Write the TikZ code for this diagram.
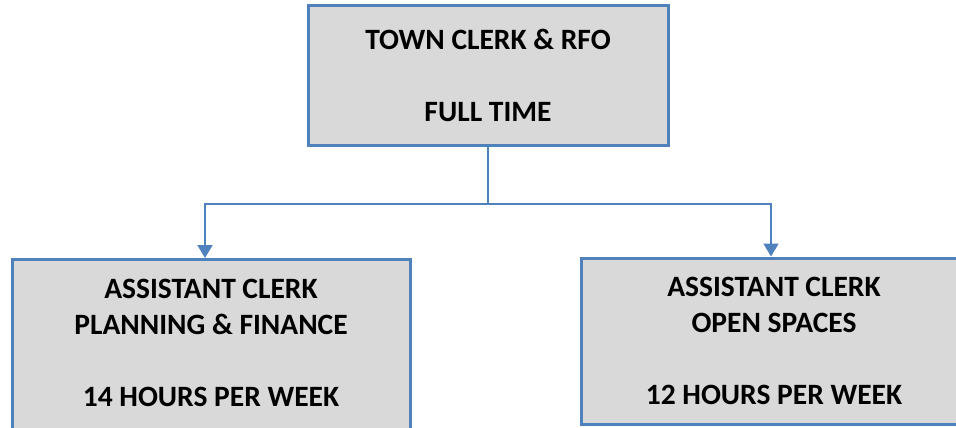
\documentclass[tikz,border=0pt]{standalone}
\usepackage{fontspec}
\setmainfont{Carlito}
\usetikzlibrary{arrows.meta}
\definecolor{postblue}{HTML}{4F81BD}
\definecolor{postgrey}{HTML}{D9D9D9}
\tikzset{
  post/.style={draw=postblue,fill=postgrey,line width=3pt,align=center,
    font=\fontsize{29.5}{36}\selectfont\bfseries,inner sep=0pt},
  link/.style={draw=postblue,line width=2pt},
  linkarrow/.style={link,-{Triangle[width=15pt,length=13pt]}}
}
\begin{document}
\begin{tikzpicture}[x=1pt,y=-1pt,line join=miter]
  \useasboundingbox (0,0) rectangle (956,428);
  \node[post,minimum width=360pt,minimum height=139pt] (townclerk) at (488,75.5)
    {TOWN CLERK \& RFO\\[36pt]FULL TIME};
  \node[post,anchor=north,minimum width=398pt,text height=127pt,text depth=80pt,
    inner ysep=19.5pt] (planning) at (211,258)
    {ASSISTANT CLERK\\PLANNING \& FINANCE\\[36pt]14 HOURS PER WEEK};
  \node[post,minimum width=386pt,minimum height=166pt] (openspaces) at (774,341)
    {ASSISTANT CLERK\\OPEN SPACES\\[36pt]12 HOURS PER WEEK};
  \draw[link] (townclerk.south) -- ++(0,57) coordinate (split);
  \draw[linkarrow] (split) -| ([xshift=-6pt]planning.north);
  \draw[linkarrow] (split) -| ([xshift=-3pt]openspaces.north);
\end{tikzpicture}
\end{document}
